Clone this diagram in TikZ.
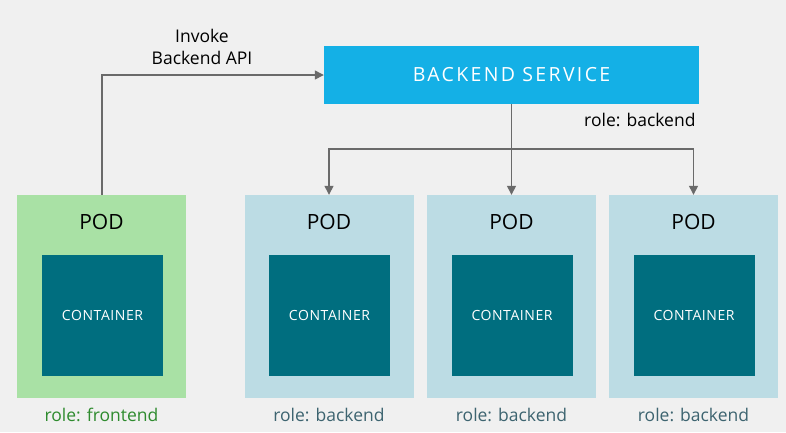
\documentclass[tikz,border=0pt]{standalone}
\usepackage{fontspec}
\setmainfont{Open Sans}
\newfontfamily\capsfont[LetterSpace=12]{Open Sans}
\newfontfamily\ctrfont[LetterSpace=4]{Open Sans}
\usetikzlibrary{arrows.meta}
\definecolor{bg}{HTML}{F0F0F0}
\definecolor{svc}{HTML}{14B0E6}
\definecolor{fepod}{HTML}{A9E1A5}
\definecolor{bepod}{HTML}{BCDCE4}
\definecolor{ctr}{HTML}{006E7F}
\definecolor{wire}{HTML}{6A6A6A}
\definecolor{fetxt}{HTML}{2E8B2E}
\definecolor{betxt}{HTML}{3D6470}
\tikzset{
  pod/.style={draw=none, minimum width=169pt, minimum height=203pt, inner sep=0pt},
  ctrbox/.style={fill=ctr, minimum width=121pt, minimum height=121pt, inner sep=0pt, text=white, font=\ctrfont\fontsize{14}{16}\selectfont},
  podlbl/.style={font=\fontsize{21}{25}\selectfont, text=black},
  rolelbl/.style={font=\fontsize{17.5}{20}\selectfont},
  conn/.style={draw=wire, line width=1.3pt, -{Triangle[length=9pt,width=9pt]}}
}
\begin{document}
\begin{tikzpicture}[x=1pt,y=-1pt]
\fill[bg] (0,0) rectangle (786,432);
\useasboundingbox (0,0) rectangle (786,432);
% service
\node[fill=svc, minimum width=375pt, minimum height=58pt, inner sep=0pt, text=white, font=\capsfont\fontsize{19.5}{23}\selectfont] (svc) at (511.5,75) {BACKEND SERVICE};
\node[anchor=east, font=\fontsize{17.5}{20}\selectfont] (svcrole) at (699,120) {role: backend};
% frontend pod
\node[pod, fill=fepod] (fe) at (101.5,296.5) {};
\node[podlbl] (fepodl) at (101.5,222) {POD};
\node[ctrbox] (fec) at (102.5,315.5) {CONTAINER};
\node[rolelbl, text=fetxt] (ferole) at (101.5,415) {role: frontend};
% backend pods
\foreach \n/\cx in {b1/329, b2/511.5, b3/693.5}{
  \node[pod, fill=bepod] (\n) at (\cx,296.5) {};
  \node[podlbl] (\n l) at (\cx,222) {POD};
  \node[ctrbox] (\n c) at (\cx+0.5,315.5) {CONTAINER};
  \node[rolelbl, text=betxt] (\n r) at (\cx,415) {role: backend};
}
% connectors
\coordinate (split) at (511.5,149);
\draw[draw=wire, line width=1.3pt] (svc.south) -- (split);
\draw[conn] (split) -- (b2.north);
\draw[conn] (split) -| (b1.north);
\draw[conn] (split) -| (b3.north);
\draw[conn] (fe.north -| 102,0) |- (svc.west |- 0,75);
\node[align=center, font=\fontsize{17.5}{22}\selectfont] (inv) at (202,47) {Invoke\\Backend API};
\end{tikzpicture}
\end{document}
